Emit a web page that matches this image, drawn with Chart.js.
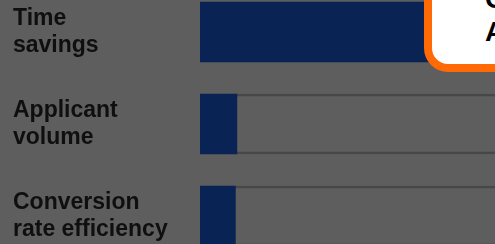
<!DOCTYPE html>
<html>
<head>
<meta charset="utf-8">
<script src="https://cdn.jsdelivr.net/npm/chart.js@4/dist/chart.umd.min.js"></script>
<style>
  html, body { margin: 0; padding: 0; }
  body {
    width: 495px;
    height: 244px;
    overflow: hidden;
    position: relative;
    background: #5e5e5e;
    font-family: "Liberation Sans", Arial, sans-serif;
  }
  #wrap {
    position: absolute;
    left: 0;
    top: -14px;
    width: 495px;
    height: 276px;
  }
  #callout {
    position: absolute;
    left: 424px;
    top: -40px;
    width: 120px;
    height: 96px;
    background: #fff;
    border: 8px solid #ff6a06;
    border-radius: 24px;
  }
  .callout-line {
    position: absolute;
    left: 53px;
    font-weight: bold;
    font-size: 28px;
    line-height: 33px;
    color: #000;
    white-space: nowrap;
  }
</style>
</head>
<body>
<div id="wrap"><canvas id="chart"></canvas></div>
<div id="callout">
  <div class="callout-line" style="top: 14px;">C</div>
  <div class="callout-line" style="top: 47px;">A</div>
</div>
<script>
var categories = [
  ["Time", "savings"],
  ["Applicant", "volume"],
  ["Conversion", "rate efficiency"],
];
var values = [90, 12.5, 12];
var trackValues = [100, 100, 100];

var chart = document.getElementById("chart");

var config = {
  type: "bar",
  data: {
    labels: categories,
    datasets: [
      {
        label: "Value",
        data: values,
        backgroundColor: "#0a2355",
        borderWidth: 0,
        barThickness: 60,
        order: 0,
      },
      {
        label: "Track",
        data: trackValues,
        backgroundColor: "rgba(0,0,0,0)",
        borderColor: "#484848",
        borderWidth: { top: 2, bottom: 2, left: 0, right: 0 },
        borderSkipped: false,
        barThickness: 60,
        order: 1,
      },
    ],
  },
  options: {
    indexAxis: "y",
    responsive: true,
    maintainAspectRatio: false,
    animation: false,
    grouped: false,
    layout: {
      padding: { left: 13, right: 0, top: 0, bottom: 0 },
    },
    scales: {
      x: {
        display: false,
        min: 0,
        max: 100,
      },
      y: {
        grid: { display: false },
        border: { display: false },
        afterFit: function (axis) {
          axis.width = 187;
          axis.paddingTop = 0;
          axis.paddingBottom = 0;
        },
        ticks: {
          crossAlign: "far",
          color: "#0f0f0f",
          font: {
            family: "'Liberation Sans', Arial, sans-serif",
            size: 23,
            weight: "bold",
            lineHeight: 1.17,
          },
        },
      },
    },
    plugins: {
      legend: { display: false },
      tooltip: { enabled: false },
    },
  },
};

new Chart(chart, config);
</script>
</body>
</html>
